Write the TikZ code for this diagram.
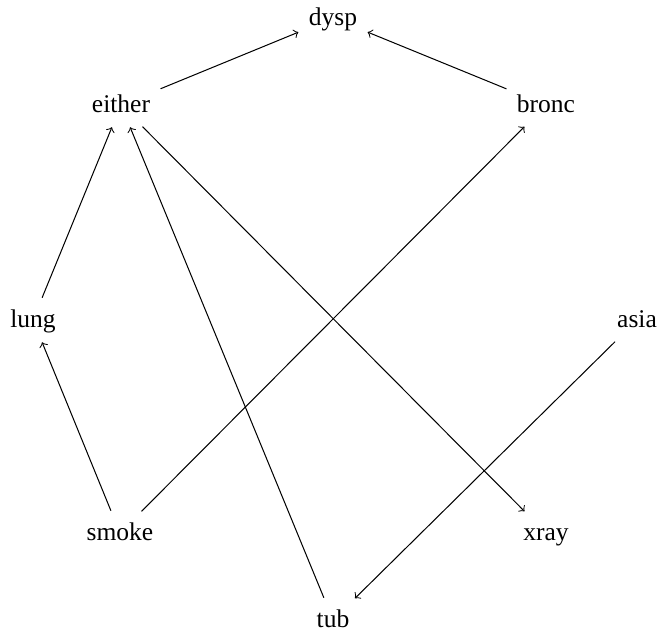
\documentclass[tikz,border=0pt]{standalone}
\usepackage{fontspec}
\setmainfont{Liberation Serif}
\begin{document}
\begin{tikzpicture}[x=0.392pt,y=-0.392pt,
  vnode/.style={inner sep=3pt,text height=1.6ex,text depth=0.4ex},
  edge/.style={->,>=to,line width=0.4pt,shorten >=1pt,shorten <=1pt}]
\useasboundingbox (0,0) rectangle (663,640);
\node[vnode] (dysp) at (333,18) {dysp};
\node[vnode] (either) at (121,105) {either};
\node[vnode] (bronc) at (546,105) {bronc};
\node[vnode] (lung) at (33,320) {lung};
\node[vnode] (asia) at (637,320) {asia};
\node[vnode] (smoke) at (120,533) {smoke};
\node[vnode] (xray) at (546,533) {xray};
\node[vnode] (tub) at (333,620) {tub};
\draw[edge] (either) -- (dysp);
\draw[edge] (bronc) -- (dysp);
\draw[edge] (lung) -- (either);
\draw[edge] (smoke) -- (lung);
\draw[edge] (smoke) -- (bronc);
\draw[edge] (tub) -- (either);
\draw[edge] (either) -- (xray);
\draw[edge] (asia) -- (tub);
\end{tikzpicture}
\end{document}
